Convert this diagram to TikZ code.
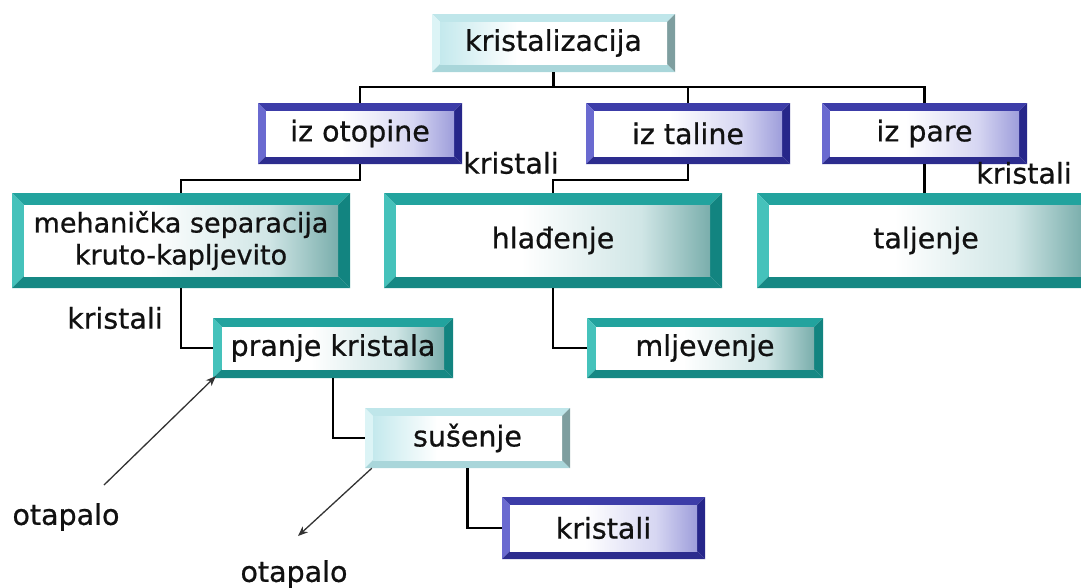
\documentclass[tikz,border=0pt]{standalone}
\usepackage{fontspec}
\setmainfont{DejaVu Sans}[FakeBold=0.7]
\usetikzlibrary{arrows.meta,calc}
\definecolor{txt}{HTML}{111111}
\definecolor{bluetop}{HTML}{3C3CA8}
\definecolor{blueleft}{HTML}{6A6AD0}
\definecolor{bluebot}{HTML}{2C2C8E}
\definecolor{blueright}{HTML}{26268A}
\definecolor{bluein}{HTML}{9E9EDB}
\definecolor{blueinm}{HTML}{D6D6F2}
\definecolor{tealtop}{HTML}{22A39E}
\definecolor{tealleft}{HTML}{45C2BB}
\definecolor{tealbot}{HTML}{168884}
\definecolor{tealright}{HTML}{128480}
\definecolor{tealin}{HTML}{7AAEAC}
\definecolor{tealinm}{HTML}{D0E6E6}
\definecolor{cyantop}{HTML}{BFE6EA}
\definecolor{cyanleft}{HTML}{DCF4F6}
\definecolor{cyanbot}{HTML}{A9D6DA}
\definecolor{cyanright}{HTML}{7E9E9F}
\definecolor{cyanin}{HTML}{C4E9ED}
\pgfdeclarehorizontalshading{shblue}{100bp}{color(0bp)=(white); color(25bp)=(white); color(45bp)=(white); color(64bp)=(blueinm); color(75bp)=(bluein); color(100bp)=(bluein)}
\pgfdeclarehorizontalshading{shteal}{100bp}{color(0bp)=(white); color(25bp)=(white); color(45bp)=(white); color(64bp)=(tealinm); color(75bp)=(tealin); color(100bp)=(tealin)}
\pgfdeclarehorizontalshading{shcyan}{100bp}{color(0bp)=(cyanin); color(25bp)=(cyanin); color(42bp)=(white); color(100bp)=(white)}
\tikzset{
  x=1pt, y=-1pt,
  every node/.style={font=\fontsize{28.5}{33}\selectfont, text=txt},
  bev/.style n args={6}{inner sep=0pt, align=center, path picture={
    \path (path picture bounding box.north west) coordinate (pA)
          (path picture bounding box.north east) coordinate (pB)
          (path picture bounding box.south east) coordinate (pC)
          (path picture bounding box.south west) coordinate (pD);
    \path ([xshift=#6,yshift=-#6]pA) coordinate (qa)
          ([xshift=-#6,yshift=-#6]pB) coordinate (qb)
          ([xshift=-#6,yshift=#6]pC) coordinate (qc)
          ([xshift=#6,yshift=#6]pD) coordinate (qd);
    \fill[#1] (pA) -- (pB) -- (qb) -- (qa) -- cycle;
    \fill[#2] (pA) -- (qa) -- (qd) -- (pD) -- cycle;
    \fill[#3] (pD) -- (qd) -- (qc) -- (pC) -- cycle;
    \fill[#4] (pB) -- (pC) -- (qc) -- (qb) -- cycle;
    \shade[shading=#5] (qa) rectangle (qc);
  }},
  bluebox/.style={bev={bluetop}{blueleft}{bluebot}{blueright}{shblue}{8pt}},
  tealbig/.style={bev={tealtop}{tealleft}{tealbot}{tealright}{shteal}{12pt}},
  tealsmall/.style={bev={tealtop}{tealleft}{tealbot}{tealright}{shteal}{9pt}},
  cyanbox/.style={bev={cyantop}{cyanleft}{cyanbot}{cyanright}{shcyan}{8pt}},
  conn/.style={draw=black, line width=2.2pt},
  arr/.style={draw=black!80, line width=1.3pt, -{Stealth[length=10pt,width=8pt]}},
  lbl/.style={inner sep=0pt}
}
\newcommand\bx[7]{\node[#1, minimum width={(#5-#3)*1pt}, minimum height={(#6-#4)*1pt}] (#2) at ({(#3+#5)/2},{(#4+#6)/2}) {#7};}
\begin{document}
\begin{tikzpicture}
\useasboundingbox (0,0) rectangle (1081,587);
\clip (0,0) rectangle (1081,587);
\bx{cyanbox}{kz}{432}{14}{675}{72}{kristalizacija}
\bx{bluebox}{io}{258}{103}{462}{164}{iz otopine}
\bx{bluebox}{it}{586}{103}{790}{164}{iz taline}
\bx{bluebox}{ip}{822}{103}{1027}{164}{iz pare}
\bx{tealbig,font=\fontsize{27}{32}\selectfont}{mk}{12}{193}{350}{288}{mehani\v{c}ka separacija\\kruto-kapljevito}
\bx{tealbig}{hl}{384}{193}{722}{288}{hla\dj enje}
\bx{tealbig}{tj}{757}{193}{1095}{288}{taljenje}
\bx{tealsmall}{pk}{213}{318}{453}{378}{pranje kristala}
\bx{tealsmall}{ml}{587}{318}{823}{378}{mljevenje}
\bx{cyanbox}{su}{365}{408}{570}{468}{su\v{s}enje}
\bx{bluebox}{kr}{502}{497}{705}{559}{kristali}
\node[lbl] (k1) at (511,163) {kristali};
\node[lbl] (k2) at (1024,173) {kristali};
\node[lbl] (k3) at (115,318) {kristali};
\node[lbl] (o1) at (66,517) {otapalo};
\node[lbl] (o2) at (294,574) {otapalo};
\coordinate (bus) at (553,87);
\coordinate (a1s) at (104,485);
\coordinate (a2e) at (298,536);
\draw[conn] (kz.south) -- (kz.south |- bus);
\draw[conn] (io.north) -- (io.north |- bus) -- (ip.north |- bus) -- (ip.north);
\draw[conn] (it.north) -- (it.north |- bus);
\draw[conn] (io.south) -- ++(0,16) -| (mk.north);
\draw[conn] (it.south) -- ++(0,16) -| (hl.north);
\draw[conn] (ip.south) -- (ip.south |- tj.north);
\draw[conn] (mk.south) |- (pk.west);
\draw[conn] (hl.south) |- (ml.west);
\draw[conn] (pk.south) |- (su.west);
\draw[conn] (su.south) |- (kr.west);
\draw[arr] (a1s) -- ([xshift=3pt,yshift=2pt]pk.south west);
\draw[arr] ([xshift=7pt]su.south west) -- (a2e);
\end{tikzpicture}
\end{document}
